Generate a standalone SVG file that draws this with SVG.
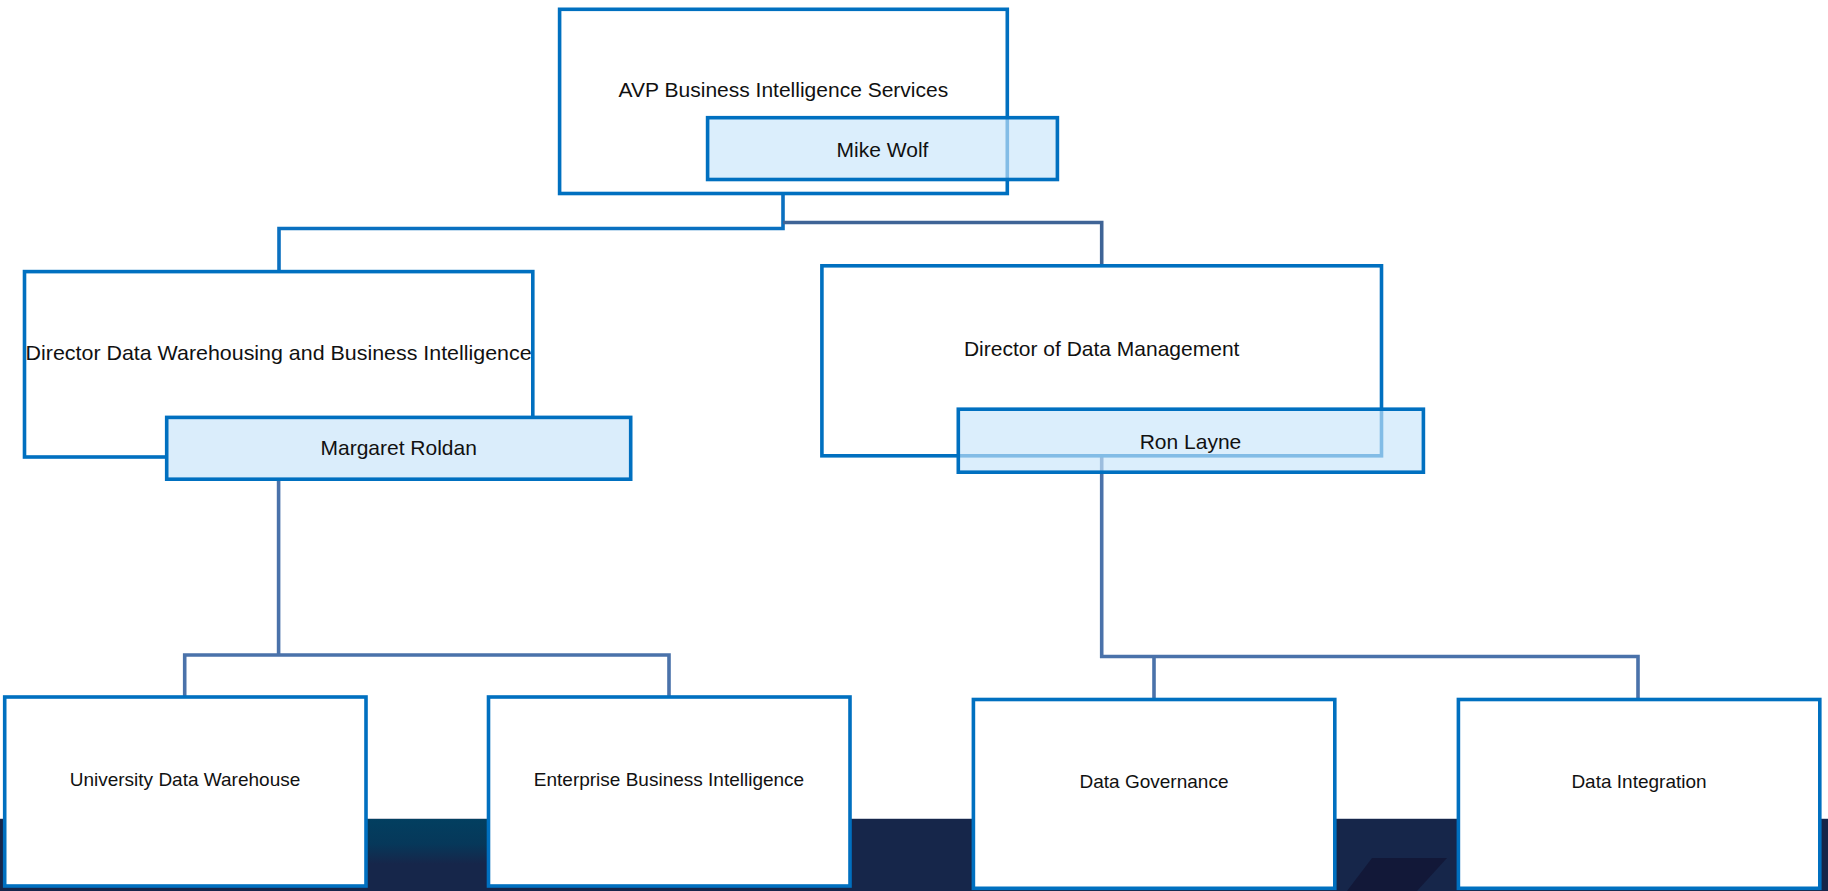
<svg xmlns="http://www.w3.org/2000/svg" width="1828" height="891" viewBox="0 0 1828 891">
<style>
.box{fill:#ffffff;stroke:#0070C0;stroke-width:3.6}
.name{fill:#C8E5FA;fill-opacity:0.65;stroke:#0070C0;stroke-width:3.6}
.nameo{fill:#DAEDFB;stroke:#0070C0;stroke-width:3.6}
.t{font-family:"Liberation Sans",Arial,sans-serif;font-size:21px;fill:#111;text-anchor:middle}
.s{font-family:"Liberation Sans",Arial,sans-serif;font-size:19px;fill:#111;text-anchor:middle}
.c{fill:none;stroke-width:3.6;stroke-linejoin:miter}
</style>
<defs>
<linearGradient id="teal" x1="0" y1="0" x2="0" y2="1">
<stop offset="0" stop-color="#023F60"/>
<stop offset="0.55" stop-color="#06385A"/>
<stop offset="1" stop-color="#16264A"/>
</linearGradient>
</defs>
<rect x="0" y="0" width="1828" height="891" fill="#ffffff"/>
<g id="band">
<rect x="0" y="818" width="1828" height="73" fill="#16264A"/>
<rect x="365" y="819" width="130" height="45" fill="url(#teal)"/>
<polygon points="1347,891 1372,858 1447,858 1417,891" fill="#121838"/>
<line x1="0" y1="818.5" x2="1828" y2="818.5" stroke="#c9ced8" stroke-width="1.2"/>
</g>
<g id="connectors">
<path class="c" stroke="#0A70C0" d="M783,193.5 V228.5 H279 V271.6"/>
<path class="c" stroke="#3F6496" d="M783,222.5 H1101.7 V266"/>
<path class="c" stroke="#4A72AA" d="M278.6,479 V655"/>
<path class="c" stroke="#4A72AA" d="M184.7,697 V655 H669 V697"/>
<path class="c" stroke="#4A72AA" d="M1101.7,455.8 V656.5 H1638 V699.5"/>
<path class="c" stroke="#4A72AA" d="M1154,656.5 V699.5"/>
</g>
<g id="avp">
<rect class="box" x="559.6" y="9.3" width="447.7" height="184.2"/>
<text class="t" x="783.4" y="96.5">AVP Business Intelligence Services</text>
</g>
<g id="mike-wolf">
<rect class="name" x="707.6" y="117.7" width="349.8" height="61.8"/>
<text class="t" x="882.5" y="156.5">Mike Wolf</text>
</g>
<g id="director-dwbi">
<rect class="box" x="24.5" y="271.6" width="508.3" height="185.4"/>
<text class="t" x="278.6" y="359.5" textLength="506" lengthAdjust="spacingAndGlyphs">Director Data Warehousing and Business Intelligence</text>
</g>
<g id="margaret-roldan">
<rect class="nameo" x="166.7" y="417.4" width="464" height="61.8"/>
<text class="t" x="398.7" y="455">Margaret Roldan</text>
</g>
<g id="director-dm">
<rect class="box" x="821.9" y="265.8" width="559.6" height="190"/>
<text class="t" x="1101.7" y="356">Director of Data Management</text>
</g>
<g id="ron-layne">
<rect class="name" x="958.3" y="409.2" width="465.1" height="63"/>
<text class="t" x="1190.5" y="449">Ron Layne</text>
</g>
<g id="udw">
<rect class="box" x="4.7" y="697" width="361.3" height="189"/>
<text class="s" x="185" y="785.6">University Data Warehouse</text>
</g>
<g id="ebi">
<rect class="box" x="488.5" y="697" width="361.5" height="189"/>
<text class="s" x="669" y="785.6">Enterprise Business Intelligence</text>
</g>
<g id="dg">
<rect class="box" x="973.4" y="699.5" width="361.4" height="188.8"/>
<text class="s" x="1154" y="787.6">Data Governance</text>
</g>
<g id="di">
<rect class="box" x="1458.4" y="699.5" width="361.4" height="188.8"/>
<text class="s" x="1639" y="787.6">Data Integration</text>
</g>
</svg>
